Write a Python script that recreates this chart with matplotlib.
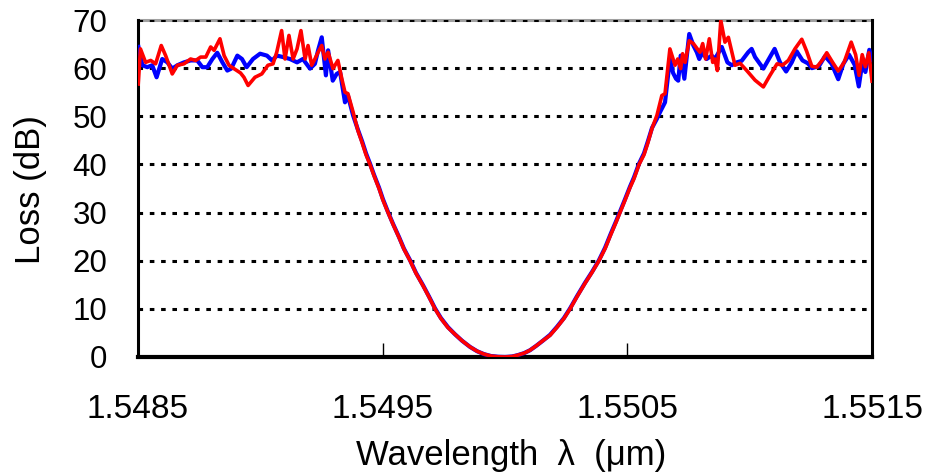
import matplotlib
matplotlib.use("Agg")
import matplotlib.pyplot as plt

plt.rcParams['font.family'] = ['Liberation Sans', 'DejaVu Sans']

# stop-band wings of the blue trace (wavelength in um, loss in dB)
blue_left_wl = [1.548502, 1.548518, 1.548538, 1.548558, 1.548576, 1.548599, 1.548620,
                1.548640, 1.548661, 1.548688, 1.548715, 1.548742, 1.548763, 1.548783,
                1.548804, 1.548824, 1.548845, 1.548865, 1.548881, 1.548906, 1.548925,
                1.548944, 1.548970, 1.548999, 1.549027, 1.549048, 1.549068, 1.549093,
                1.549121, 1.549150, 1.549174, 1.549203, 1.549223, 1.549236, 1.549251,
                1.549268, 1.549277, 1.549296, 1.549312, 1.549326, 1.549346, 1.549358,
                1.549379]
blue_left_loss = [64.4, 60.6, 60.2, 60.6, 58.1, 61.9, 61.2,
                  59.9, 60.6, 61.2, 61.6, 61.6, 60.2, 60.2,
                  61.9, 63.2, 61.2, 59.5, 59.9, 62.6, 61.9,
                  60.2, 61.9, 63.0, 62.6, 61.6, 62.6, 62.3,
                  61.9, 61.2, 61.9, 59.9, 60.9, 63.7, 66.4,
                  58.5, 63.7, 57.4, 58.8, 59.2, 52.9, 54.3,
                  50.2]

blue_right_wl = [1.550621, 1.550634, 1.550654, 1.550674, 1.550687, 1.550699, 1.550708,
                 1.550718, 1.550733, 1.550753, 1.550770, 1.550784, 1.550794, 1.550808,
                 1.550824, 1.550845, 1.550858, 1.550886, 1.550909, 1.550927, 1.550947,
                 1.550967, 1.550994, 1.551008, 1.551022, 1.551056, 1.551083, 1.551102,
                 1.551124, 1.551149, 1.551172, 1.551192, 1.551216, 1.551238, 1.551254,
                 1.551283, 1.551308, 1.551335, 1.551362, 1.551383, 1.551406, 1.551429,
                 1.551446, 1.551460, 1.551473, 1.551489, 1.551500]
blue_right_loss = [49.5, 50.9, 52.9, 61.9, 59.0, 57.8, 57.4,
                   62.6, 57.8, 67.1, 64.7, 63.3, 61.9, 63.3,
                   61.9, 62.6, 61.9, 64.4, 61.2, 60.6, 61.2,
                   61.5, 63.3, 64.0, 62.3, 59.9, 62.3, 64.0,
                   61.2, 59.3, 61.2, 63.5, 61.6, 61.0, 60.0,
                   60.4, 62.5, 60.9, 57.7, 60.9, 62.8, 60.7,
                   56.2, 61.0, 59.2, 63.8, 61.7]

# stop-band wings of the red trace
red_left_wl = [1.548501, 1.548510, 1.548531, 1.548552, 1.548572, 1.548595, 1.548613,
               1.548640, 1.548661, 1.548688, 1.548715, 1.548736, 1.548756, 1.548777,
               1.548797, 1.548811, 1.548835, 1.548852, 1.548872, 1.548892, 1.548919,
               1.548933, 1.548950, 1.548978, 1.549006, 1.549031, 1.549052, 1.549067,
               1.549087, 1.549101, 1.549117, 1.549134, 1.549150, 1.549166, 1.549183,
               1.549195, 1.549210, 1.549223, 1.549236, 1.549251, 1.549264, 1.549277,
               1.549297, 1.549317, 1.549333, 1.549346, 1.549358, 1.549379]
red_left_loss = [56.7, 64.0, 61.2, 61.6, 60.9, 64.7, 62.6,
                 58.8, 60.6, 60.9, 61.9, 61.6, 62.3, 62.3,
                 64.4, 63.7, 66.1, 62.6, 60.6, 59.9, 59.0,
                 58.1, 56.4, 58.1, 58.8, 60.6, 60.9, 63.3,
                 67.8, 61.9, 66.8, 61.9, 64.0, 67.8, 61.9,
                 64.7, 60.6, 61.9, 63.3, 64.7, 61.9, 63.3,
                 59.9, 61.6, 57.8, 55.0, 54.7, 50.9]

red_right_wl = [1.550621, 1.550641, 1.550654, 1.550674, 1.550695, 1.550706, 1.550718,
                1.550726, 1.550736, 1.550753, 1.550770, 1.550786, 1.550797, 1.550808,
                1.550820, 1.550835, 1.550849, 1.550858, 1.550868, 1.550882, 1.550899,
                1.550913, 1.550940, 1.550961, 1.550988, 1.551022, 1.551056, 1.551083,
                1.551112, 1.551134, 1.551158, 1.551185, 1.551213, 1.551233, 1.551254,
                1.551274, 1.551299, 1.551315, 1.551339, 1.551362, 1.551386, 1.551415,
                1.551433, 1.551447, 1.551460, 1.551473, 1.551487, 1.551500]
red_right_loss = [50.2, 54.3, 54.7, 64.0, 60.6, 61.9, 59.9,
                  63.0, 61.2, 65.7, 65.1, 64.0, 63.3, 65.1,
                  61.9, 66.1, 61.2, 61.9, 59.5, 69.9, 65.4,
                  66.4, 60.6, 61.0, 59.5, 57.5, 56.1, 58.5,
                  60.9, 60.6, 61.6, 64.0, 66.0, 63.5, 60.4,
                  60.2, 61.8, 63.2, 61.2, 59.4, 61.2, 65.4,
                  62.8, 58.5, 62.8, 60.3, 63.2, 57.3]

# pass band (notch) shared by both traces
notch_wl = [1.549399, 1.549416, 1.549432, 1.549448, 1.549465, 1.549485, 1.549501,
            1.549522, 1.549542, 1.549567, 1.549587, 1.549612, 1.549636, 1.549665,
            1.549689, 1.549714, 1.549738, 1.549767, 1.549796, 1.549824, 1.549857,
            1.549886, 1.549914, 1.549943, 1.549971, 1.550000, 1.550029, 1.550053,
            1.550078, 1.550102, 1.550127, 1.550155, 1.550184, 1.550213, 1.550241,
            1.550266, 1.550294, 1.550327, 1.550356, 1.550384, 1.550409, 1.550433,
            1.550454, 1.550470, 1.550490, 1.550511, 1.550527, 1.550548, 1.550568,
            1.550584, 1.550601]
notch_blue = [47.2, 44.8, 42.3, 40.2, 37.8, 35.2, 32.8,
              30.1, 27.7, 24.9, 22.5, 20.1, 17.5, 14.9,
              12.6, 10.1, 8.1, 6.2, 4.7, 3.4, 2.1,
              1.2, 0.6, 0.2, 0.05, 0.0, 0.1, 0.4,
              0.8, 1.4, 2.3, 3.4, 4.6, 6.3, 8.1,
              10.1, 12.6, 15.4, 17.7, 20.1, 22.7, 25.7,
              28.2, 30.2, 32.7, 35.4, 37.3, 40.2, 42.3,
              44.8, 47.6]
notch_red = [47.0, 44.5, 42.0, 40.0, 37.6, 35.0, 32.6,
             30.0, 27.6, 24.8, 22.4, 20.0, 17.4, 14.8,
             12.5, 10.0, 8.0, 6.1, 4.7, 3.4, 2.1,
             1.2, 0.6, 0.2, 0.05, 0.0, 0.1, 0.4,
             0.8, 1.4, 2.3, 3.4, 4.5, 6.2, 8.0,
             10.0, 12.5, 15.3, 17.6, 20.0, 22.5, 25.5,
             28.0, 30.0, 32.5, 35.2, 37.0, 40.0, 42.0,
             44.5, 47.5]

x_ticks = [1.5485, 1.5495, 1.5505, 1.5515]
y_ticks = [0, 10, 20, 30, 40, 50, 60, 70]

blue_wl = blue_left_wl + notch_wl + blue_right_wl
blue_loss = blue_left_loss + notch_blue + blue_right_loss
red_wl = red_left_wl + notch_wl + red_right_wl
red_loss = red_left_loss + notch_red + red_right_loss

fig = plt.figure(figsize=(9.28, 4.76), dpi=100)
ax = fig.add_axes([138 / 928, 1 - 357 / 476, 734 / 928, 337 / 476])

ax.plot(blue_wl, blue_loss, color='#0000ff', lw=3.0, zorder=3)
ax.plot(red_wl, red_loss, color='#ff0000', lw=2.6, zorder=4)

ax.set_xlim(1.5485, 1.5515)
ax.set_ylim(0, 70)
ax.set_xticks(x_ticks)
ax.set_xticklabels([f"{v:.4f}" for v in x_ticks])
ax.set_yticks(y_ticks)

# dotted horizontal grid, grey top edge under the 70 dB line
ax.yaxis.grid(True, color='black', linestyle=(0, (1.5, 2.2)), linewidth=2.2)
ax.spines['top'].set_visible(False)
ax.axhline(70, color='#a0a0a0', lw=2.2, zorder=1.2, clip_on=False)
ax.spines['bottom'].set_linewidth(3.0)
ax.spines['left'].set_linewidth(2.2)
ax.spines['right'].set_linewidth(2.2)

ax.tick_params(axis='x', direction='in', length=10, width=1, pad=27, labelsize=24)
ax.tick_params(axis='y', length=0, pad=22, labelsize=22.5)

ax.set_xlabel("Wavelength  λ  (μm)", fontsize=25, va='center')
ax.set_ylabel("Loss (dB)", fontsize=25, va='center')
ax.xaxis.set_label_coords(0.508, -0.291)
ax.yaxis.set_label_coords(-0.147, 0.496)

fig.savefig("out.png", dpi=100)
